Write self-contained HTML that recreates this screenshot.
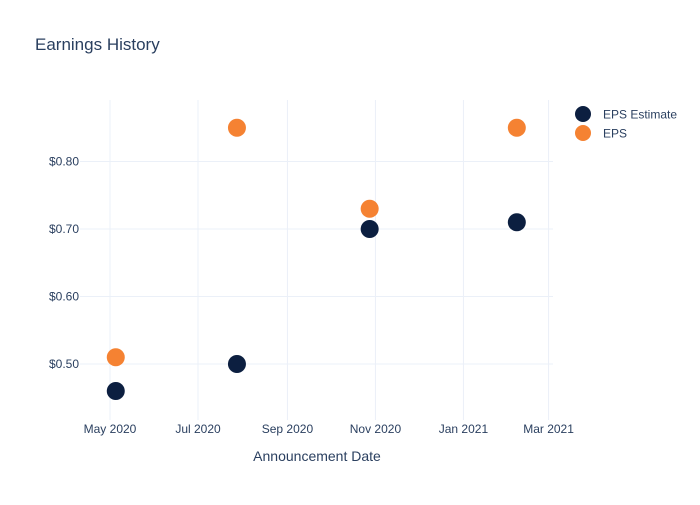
<!DOCTYPE html>
<html><head><meta charset="utf-8"><style>
body{margin:0;background:#fff;font-family:"Liberation Sans","DejaVu Sans",sans-serif}
svg text{font-family:"Liberation Sans","DejaVu Sans",sans-serif}
</style></head><body>
<svg id="c" width="700" height="500" xmlns="http://www.w3.org/2000/svg">
<rect width="700" height="500" fill="#fff"/>
<text x="35" y="50" font-size="17" fill="#2a3f5f">Earnings History</text>
<g id="grid"></g><g id="marks"></g>
<text x="317" y="461" font-size="14" fill="#2a3f5f" text-anchor="middle">Announcement Date</text>
<g>
<circle cx="583" cy="114" r="8" fill="#0c1f40"/>
<text x="603" y="118.5" font-size="12" fill="#2a3f5f">EPS Estimate</text>
<circle cx="583" cy="133" r="8" fill="#f58232"/>
<text x="603" y="137.5" font-size="12" fill="#2a3f5f">EPS</text>
</g>
</svg>
<script>
const dates=["2020-05-05","2020-07-28","2020-10-28","2021-02-07"];
const epsEstimate=[0.46,0.50,0.70,0.71];
const eps=[0.51,0.85,0.73,0.85];
const yTicks=[0.5,0.6,0.7,0.8];
const xTickDates=["2020-05-01","2020-07-01","2020-09-01","2020-11-01","2021-01-01","2021-03-01"];
const xTickLabels=["May 2020","Jul 2020","Sep 2020","Nov 2020","Jan 2021","Mar 2021"];

const L=80,R=553,T=100,B=420;
const t=d=>Date.parse(d+"T00:00:00Z");
const x0=t("2020-05-01"),x1=t("2020-07-01");
const pxPerMs=88/(x1-x0);
const X=d=>110+(t(d)-x0)*pxPerMs;
const Y=v=>364-(v-0.5)*675;
const NS="http://www.w3.org/2000/svg";
const g=document.getElementById('grid'),m=document.getElementById('marks');
function mk(tag,attrs,parent){const e=document.createElementNS(NS,tag);for(const k in attrs)e.setAttribute(k,attrs[k]);parent.appendChild(e);return e;}
xTickDates.forEach((d,i)=>{
 const x=X(d);
 const l=mk('line',{x1:x,x2:x,y1:T,y2:B,stroke:'#ebf0f8','stroke-width':1},g);
 
 
 const tx=mk('text',{x:x,y:433,'font-size':12,fill:'#2a3f5f','text-anchor':'middle'},g);
 tx.textContent=xTickLabels[i];
 
 
});
yTicks.forEach(v=>{
 const y=Y(v);
 const l=mk('line',{x1:L,x2:R,y1:y,y2:y,stroke:'#ebf0f8','stroke-width':1},g);
 
 
 const tx=mk('text',{x:79,y:y+4,'font-size':12,fill:'#2a3f5f','text-anchor':'end'},g);
 tx.textContent='$'+v.toFixed(2);
 
 
});
function series(vals,color,name){
 vals.forEach((v,i)=>{
  const c=mk('circle',{cx:X(dates[i]),cy:Y(v),r:9,fill:color},m);
  
  
 });
}
series(epsEstimate,'#0c1f40','eps-estimate');
series(eps,'#f58232','eps');
</script>
</body></html>
